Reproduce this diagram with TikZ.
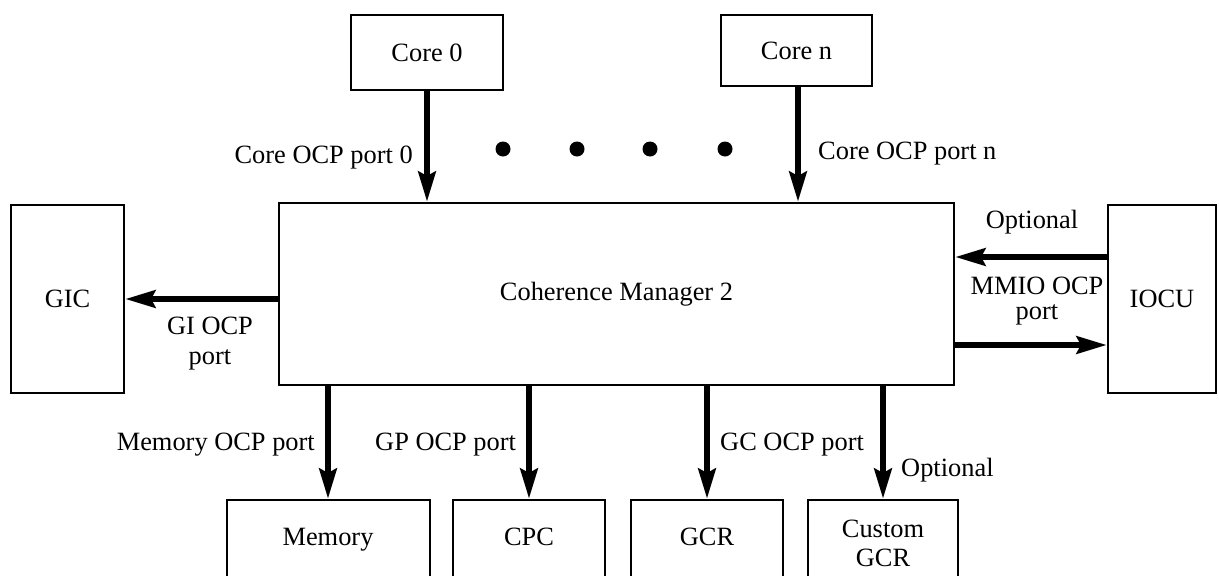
\documentclass[tikz,border=0pt]{standalone}
\usepackage{fontspec}
\setmainfont{Liberation Serif}
\usetikzlibrary{arrows.meta,calc}
\begin{document}
\begin{tikzpicture}[x=1pt,y=-1pt,
  every node/.style={font=\fontsize{26.4}{28}\selectfont},
  box/.style={draw,line width=2pt,inner sep=0pt},
  arr/.style={line width=6.5pt,-{Stealth[length=30pt,width=17pt,inset=4pt]}},
  lbl/.style={inner sep=0pt},
  dotc/.style={fill=black,circle,inner sep=0pt,minimum size=15pt}]
\useasboundingbox (0,0) rectangle (1219,576);
\clip (0,0) rectangle (1219,576);
% boxes
\node[box,minimum width=152pt,minimum height=75pt] (core0) at (427,52.5) {Core 0};
\node[box,minimum width=151pt,minimum height=71pt] (coren) at (796.5,50.5) {Core n};
\node[box,minimum width=675pt,minimum height=182pt] (cm) at (616.5,294) {Coherence Manager 2};
\node[box,minimum width=113pt,minimum height=188pt] (gic) at (67.5,299) {GIC};
\node[box,minimum width=108pt,minimum height=188pt] (iocu) at (1162,299) {IOCU};
\node[box,anchor=north,minimum width=203pt,minimum height=120pt] (mem) at (328,499) {};
\node[box,anchor=north,minimum width=152pt,minimum height=120pt] (cpc) at (529,499) {};
\node[box,anchor=north,minimum width=152pt,minimum height=120pt] (gcr) at (707,499) {};
\node[box,anchor=north,minimum width=150pt,minimum height=120pt] (cgcr) at (883,499) {};
\node[lbl,anchor=base] (memt) at (328,545) {Memory};
\node[lbl,anchor=base] (cpct) at (529,545) {CPC};
\node[lbl,anchor=base] (gcrt) at (707,545) {GCR};
\node[lbl,anchor=north,align=center,font=\fontsize{26.4}{29}\selectfont] (cgcrt) at (883,520) {Custom\\GCR};
% dots
\node[dotc] (d1) at (503,149) {};
\node[dotc] (d2) at (577,149) {};
\node[dotc] (d3) at (650,149) {};
\node[dotc] (d4) at (725,149) {};
% arrows
\draw[arr] (core0.south) -- (core0.south |- cm.north);
\draw[arr] ([xshift=1.5pt]coren.south) -- ([xshift=1.5pt]coren.south |- cm.north);
\draw[arr] (cm.west |- gic.east) -- (gic.east);
\draw[arr] ([yshift=42pt]iocu.west) -- ([yshift=42pt]iocu.west -| cm.east);
\draw[arr] ([yshift=-51pt]cm.east) -- ([yshift=-51pt]cm.east -| iocu.west);
\draw[arr] (cm.south -| mem.north) -- (mem.north);
\draw[arr] (cm.south -| cpc.north) -- (cpc.north);
\draw[arr] (cm.south -| gcr.north) -- (gcr.north);
\draw[arr] (cm.south -| cgcr.north) -- (cgcr.north);
% labels
\node[lbl,anchor=base east] (l0) at (413,163) {Core OCP port 0};
\node[lbl,anchor=base west] (ln) at (818,159) {Core OCP port n};
\node[lbl,anchor=north,align=center,font=\fontsize{26.4}{30}\selectfont] (lgi) at (210,317) {GI OCP\\port};
\node[lbl,anchor=base] (lopt1) at (1032,228) {Optional};
\node[lbl,anchor=north,align=center,font=\fontsize{26.4}{25}\selectfont] (lmmio) at (1037,277) {MMIO OCP\\port};
\node[lbl,anchor=base east] (lmem) at (315,450) {Memory OCP port};
\node[lbl,anchor=base west] (lgp) at (375,450) {GP OCP port};
\node[lbl,anchor=base west] (lgc) at (720,450) {GC OCP port};
\node[lbl,anchor=base west] (lopt2) at (901,476) {Optional};
\end{tikzpicture}
\end{document}
